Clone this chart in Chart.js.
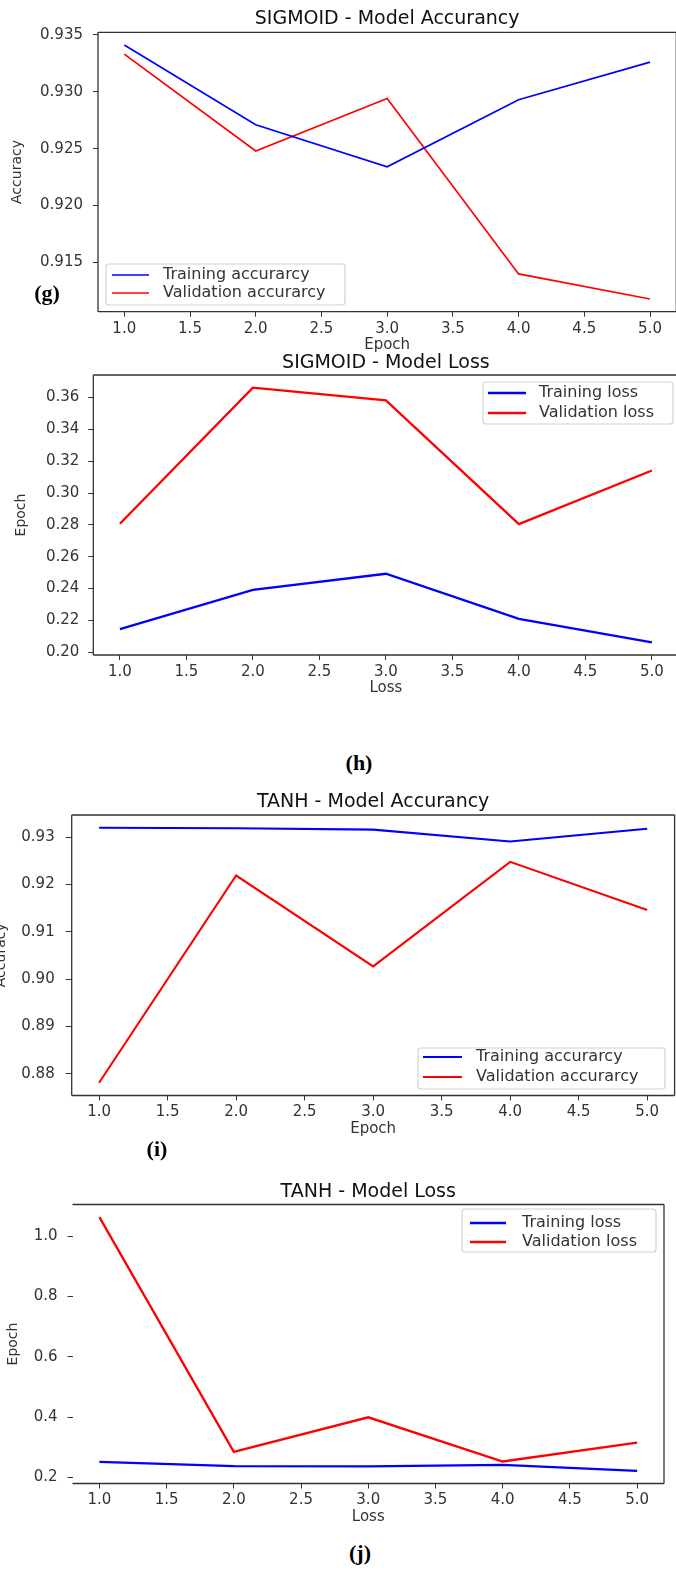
<!DOCTYPE html>
<html>
<head>
<meta charset="utf-8">
<script src="https://cdn.jsdelivr.net/npm/chart.js@4.4.1/dist/chart.umd.min.js"></script>
<style>
  html, body { margin: 0; padding: 0; background: #fff; }
  body { position: relative; width: 676px; height: 1575px; overflow: hidden; }
  canvas { position: absolute; }
  .tag { position: absolute; transform: translate(-50%, -50%); font-family: "Liberation Serif", "Times New Roman", serif; font-weight: bold; font-size: 22px; color: #000; }
</style>
</head>
<body>
<canvas id="sigAcc"></canvas>
<canvas id="sigLoss"></canvas>
<canvas id="tanhAcc"></canvas>
<canvas id="tanhLoss"></canvas>
<div class="tag" style="left:47px; top:293px">(g)</div>
<div class="tag" style="left:359px; top:763px">(h)</div>
<div class="tag" style="left:157px; top:1149px">(i)</div>
<div class="tag" style="left:360px; top:1553px">(j)</div>

<script>
// values
const epochs = [1, 2, 3, 4, 5];
const sigTrainAcc = [0.9341, 0.9271, 0.9234, 0.9293, 0.9326];
const sigValAcc = [0.9333, 0.9248, 0.9294, 0.9140, 0.9118];
const sigTrainLoss = [0.2145, 0.2392, 0.2493, 0.2210, 0.2063];
const sigValLoss = [0.2807, 0.3661, 0.3581, 0.2805, 0.3141];
const tanhTrainAcc = [0.9320, 0.9319, 0.9316, 0.9291, 0.9318];
const tanhValAcc = [0.8781, 0.9219, 0.9027, 0.9248, 0.9146];
const tanhTrainLoss = [0.2518, 0.2375, 0.2364, 0.2419, 0.2220];
const tanhValLoss = [1.0628, 0.2848, 0.3994, 0.2529, 0.3157];

Chart.defaults.font.family = '"DejaVu Sans", sans-serif';
Chart.defaults.color = '#333';

const pts = arr => arr.map((v, i) => ({ x: epochs[i], y: v }));
// matplotlib style 5% margins
const span = (...arrs) => {
  const all = [].concat(...arrs);
  const lo = Math.min(...all), hi = Math.max(...all), m = (hi - lo) * 0.05;
  return [lo - m, hi + m];
};

function panel(id, s) {
  const cv = document.getElementById(id);
  cv.width = s.cw; cv.height = s.ch;
  cv.style.left = s.cx + 'px'; cv.style.top = s.cy + 'px';
  const tLH = 19 * 1.2, aLH = 15 * 1.2;
  const tTop = s.titleY - s.cy - tLH / 2;
  const tBot = s.plot.t - s.cy - tTop - tLH;
  const [ymin, ymax] = span(s.train, s.val);
  const L = s.legend;

  const frame = {
    id: 'frame',
    afterDraw(chart) {
      const { ctx, chartArea: a } = chart;
      ctx.save();
      ctx.strokeStyle = '#333'; ctx.lineWidth = 1.3;
      ctx.beginPath();
      if (s.sides.includes('t')) { ctx.moveTo(a.left, a.top); ctx.lineTo(a.right, a.top); }
      if (s.sides.includes('r')) { ctx.moveTo(a.right, a.top); ctx.lineTo(a.right, a.bottom); }
      if (s.sides.includes('b')) { ctx.moveTo(a.left, a.bottom); ctx.lineTo(a.right, a.bottom); }
      if (s.sides.includes('l')) { ctx.moveTo(a.left, a.top); ctx.lineTo(a.left, a.bottom); }
      ctx.stroke();
      ctx.restore();
    }
  };
  const legendBox = {
    id: 'legendBox',
    afterDraw(chart) {
      const ctx = chart.ctx, ox = s.cx, oy = s.cy;
      ctx.save();
      ctx.fillStyle = 'rgba(255,255,255,0.85)';
      ctx.strokeStyle = '#d2d2d2'; ctx.lineWidth = 1.2;
      ctx.beginPath(); ctx.roundRect(L.x - ox, L.y - oy, L.w, L.h, 3); ctx.fill(); ctx.stroke();
      ctx.font = '16px "DejaVu Sans"'; ctx.textBaseline = 'middle'; ctx.fillStyle = '#333';
      chart.data.datasets.forEach((ds, i) => {
        const y = L.rows[i] - oy;
        ctx.strokeStyle = ds.borderColor; ctx.lineWidth = ds.borderWidth;
        ctx.beginPath(); ctx.moveTo(L.x1 - ox, y); ctx.lineTo(L.x2 - ox, y); ctx.stroke();
        ctx.fillText(ds.label, L.tx - ox, y);
      });
      ctx.restore();
    }
  };

  return new Chart(cv, {
    type: 'line',
    data: {
      datasets: [
        { label: s.names[0], data: pts(s.train), borderColor: '#0000ff', borderWidth: s.lw },
        { label: s.names[1], data: pts(s.val), borderColor: '#ff0000', borderWidth: s.lw }
      ]
    },
    options: {
      responsive: false, animation: false,
      elements: { point: { radius: 0 }, line: { tension: 0 } },
      layout: { padding: { left: 0, top: 0, bottom: 0, right: s.cx + s.cw - s.plot.r } },
      plugins: {
        legend: { display: false }, tooltip: { enabled: false },
        title: { display: true, fullSize: false, text: s.title, color: '#111',
                 font: { size: 19, weight: 'normal' }, padding: { top: tTop, bottom: tBot } }
      },
      scales: {
        x: {
          type: 'linear', min: 0.8, max: 5.2,
          afterFit: sc => { sc.height = s.cy + s.ch - s.plot.b; },
          border: { display: false },
          grid: { drawOnChartArea: false, tickLength: 5, color: '#333' },
          ticks: { stepSize: 0.5, includeBounds: false, padding: 3, color: '#333',
                   font: { size: 15 }, maxRotation: 0, callback: v => v.toFixed(1) },
          title: { display: true, text: s.xlab, color: '#333', font: { size: 15 },
                   padding: { top: 0, bottom: s.cy + s.ch - s.xlabY - aLH / 2 } }
        },
        y: {
          min: ymin, max: ymax,
          afterFit: sc => { sc.width = s.plot.l - s.cx; },
          border: { display: false },
          grid: { drawOnChartArea: false, tickLength: s.tl, color: '#333' },
          ticks: { stepSize: s.step, includeBounds: false, padding: s.tp, color: '#333',
                   font: { size: 15 }, callback: v => v.toFixed(s.dec) },
          title: { display: true, text: s.ylab, color: '#333', font: { size: 14 },
                   padding: { top: s.ylabX - s.cx - 14 * 1.2 / 2, bottom: 0 } }
        }
      }
    },
    plugins: [frame, legendBox]
  });
}

panel('sigAcc', {
  cx: 0, cy: 0, cw: 690, ch: 356,
  plot: { l: 98, t: 32.3, r: 676.3, b: 311.7 },
  titleY: 19, xlabY: 345, ylabX: 17, tl: 5, tp: 10,
  title: 'SIGMOID - Model Accurancy', xlab: 'Epoch', ylab: 'Accuracy',
  names: ['Training accurarcy', 'Validation accurarcy'],
  train: sigTrainAcc, val: sigValAcc, step: 0.005, dec: 3, lw: 1.7, sides: 'trbl',
  legend: { x: 106, y: 264, w: 239, h: 41, x1: 112, x2: 149, tx: 163, rows: [275, 293] }
});

panel('sigLoss', {
  cx: 0, cy: 345, cw: 690, ch: 354,
  plot: { l: 93.3, t: 375, r: 678.5, b: 655 },
  titleY: 363, xlabY: 688, ylabX: 21, tl: 5, tp: 9,
  title: 'SIGMOID - Model Loss', xlab: 'Loss', ylab: 'Epoch',
  names: ['Training loss', 'Validation loss'],
  train: sigTrainLoss, val: sigValLoss, step: 0.02, dec: 2, lw: 2.3, sides: 'trbl',
  legend: { x: 483, y: 382, w: 190, h: 42, x1: 488, x2: 526, tx: 539, rows: [393, 413] }
});

panel('tanhAcc', {
  cx: -10, cy: 785, cw: 700, ch: 355,
  plot: { l: 71.7, t: 815, r: 674.6, b: 1095.5 },
  titleY: 802, xlabY: 1129, ylabX: 1, tl: 6, tp: 11,
  title: 'TANH - Model Accurancy', xlab: 'Epoch', ylab: 'Accuracy',
  names: ['Training accurarcy', 'Validation accurarcy'],
  train: tanhTrainAcc, val: tanhValAcc, step: 0.01, dec: 2, lw: 2.1, sides: 'trbl',
  legend: { x: 418, y: 1048, w: 247, h: 41, x1: 423, x2: 462, tx: 476, rows: [1057, 1077] }
});

panel('tanhLoss', {
  cx: 0, cy: 1175, cw: 690, ch: 353,
  plot: { l: 72.5, t: 1204.5, r: 664, b: 1483.5 },
  titleY: 1192, xlabY: 1517, ylabX: 13, tl: 5, tp: 10,
  title: 'TANH - Model Loss', xlab: 'Loss', ylab: 'Epoch',
  names: ['Training loss', 'Validation loss'],
  train: tanhTrainLoss, val: tanhValLoss, step: 0.2, dec: 1, lw: 2.3, sides: 'trb',
  legend: { x: 462, y: 1209, w: 194, h: 43, x1: 470, x2: 506, tx: 522, rows: [1223, 1242] }
});
</script>
</body>
</html>
